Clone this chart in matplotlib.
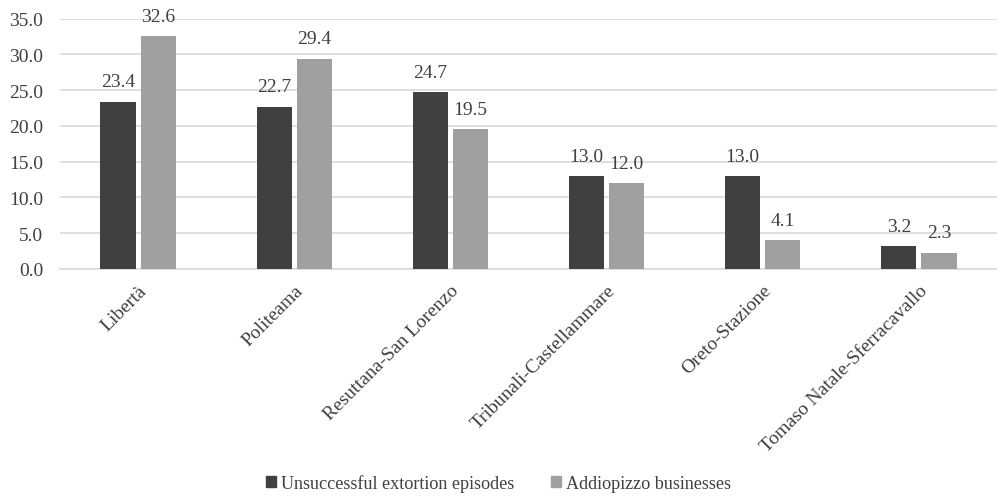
import matplotlib

matplotlib.use("Agg")
import matplotlib.pyplot as plt
import numpy as np
from matplotlib.patches import Patch

districts = [
    "Libertà",
    "Politeama",
    "Resuttana-San Lorenzo",
    "Tribunali-Castellammare",
    "Oreto-Stazione",
    "Tomaso Natale-Sferracavallo",
]
unsuccessful = [23.4, 22.7, 24.7, 13.0, 13.0, 3.2]
addiopizzo = [32.6, 29.4, 19.5, 12.0, 4.1, 2.3]
series_labels = ["Unsuccessful extortion episodes", "Addiopizzo businesses"]

DARK = "#404040"
LIGHT = "#a0a0a0"
GRID = "#d9d9d9"
TEXT = "#404040"

plt.rcParams["font.family"] = ["Liberation Serif", "DejaVu Serif"]
plt.rcParams["font.size"] = 14

fig = plt.figure(figsize=(9.97, 5.02), dpi=100)
ax = fig.add_axes([60 / 997, 1 - 270 / 502, 1 - 60 / 997, (270 - 19.5) / 502])

x = np.arange(len(districts))
width = 0.225
gap = 0.032
b1 = ax.bar(x - (width + gap) / 2, unsuccessful, width, color=DARK, zorder=3)
b2 = ax.bar(x + (width + gap) / 2, addiopizzo, width, color=LIGHT, zorder=3)

# value labels sit a little above each bar
for group in (b1, b2):
    for bar in group:
        ax.annotate(
            f"{bar.get_height():.1f}",
            (bar.get_x() + bar.get_width() / 2, bar.get_height()),
            xytext=(0, 8),
            textcoords="offset points",
            ha="center",
            va="bottom",
            color=TEXT,
            fontsize=14,
        )

ax.set_xlim(-0.5, len(districts) - 0.5)
ax.set_ylim(0, 35)
ax.set_yticks(np.arange(0, 35.1, 5))
ax.set_yticklabels([f"{v:.1f}" for v in np.arange(0, 35.1, 5)], color=TEXT)
ax.set_xticks(x)
ax.set_xticklabels(districts, rotation=45, ha="right", rotation_mode="anchor", color=TEXT)
ax.tick_params(axis="both", length=0, labelsize=14)
ax.tick_params(axis="x", pad=9)
ax.tick_params(axis="y", pad=12)
ax.yaxis.grid(True, color=GRID, linewidth=1.2, zorder=0)
for side in ("top", "right", "left"):
    ax.spines[side].set_visible(False)
ax.spines["bottom"].set_color(GRID)
ax.spines["bottom"].set_linewidth(1.2)

handles = [Patch(color=DARK), Patch(color=LIGHT)]
fig.legend(
    handles,
    series_labels,
    loc="center",
    bbox_to_anchor=(0.5, 1 - 484 / 502),
    ncol=2,
    frameon=False,
    handlelength=0.55,
    handleheight=0.55,
    handletextpad=0.3,
    columnspacing=2.0,
    labelcolor=TEXT,
    fontsize=13.1,
)

fig.savefig("out.png", dpi=100)
